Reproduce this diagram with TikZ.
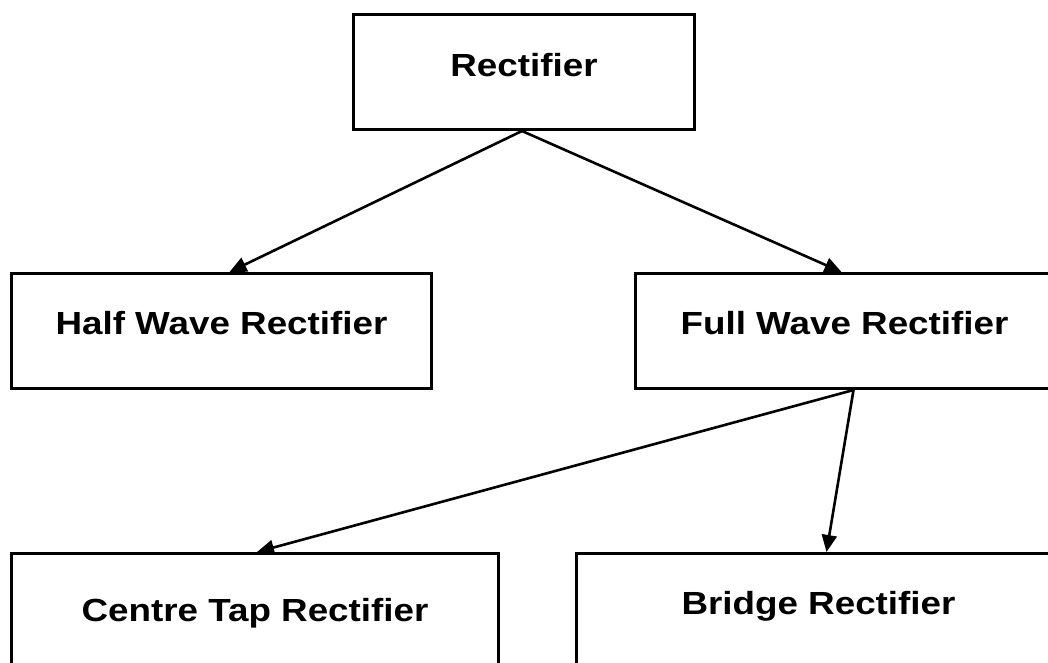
\documentclass[tikz,border=0pt]{standalone}
\usepackage{fontspec}
\setmainfont{Liberation Sans}[FakeStretch=1.15]
\usetikzlibrary{arrows.meta}

\begin{document}
\begin{tikzpicture}[x=1pt,y=-1pt,
  blockbox/.style={draw=black, line width=3pt, fill=white, inner sep=0pt,
    anchor=north west, font=\fontsize{32}{38}\selectfont\bfseries, align=center},
  link/.style={line width=2.6pt, -{Triangle[length=17pt,width=15pt]}}]

  % page frame
  \useasboundingbox (0,0) rectangle (1048,663);
  \clip (0,0) rectangle (1048,663);

  % blocks (text height / depth place the baseline inside each box)
  \node[blockbox, minimum width=341pt, text height=62pt, text depth=53pt]
    (rect) at (352,13) {Rectifier};
  \node[blockbox, minimum width=420pt, text height=61pt, text depth=54pt]
    (half) at (10,272) {Half Wave Rectifier};
  \node[blockbox, minimum width=418pt, text height=61pt, text depth=54pt]
    (full) at (634,272) {Full Wave Rectifier};
  \node[blockbox, minimum width=487pt, text height=68pt, text depth=47pt]
    (ctap) at (10,552) {Centre Tap Rectifier};
  \node[blockbox, minimum width=484pt, text height=61pt, text depth=54pt]
    (bridge) at (575,552) {Bridge Rectifier};

  % connectors
  \draw[link] ([xshift=-2pt]rect.south) -- ([xshift=8pt]half.north);
  \draw[link] ([xshift=-2pt]rect.south) -- ([xshift=-3pt]full.north);
  \draw[link] ([xshift=9pt]full.south) -- ([xshift=2pt]ctap.north);
  \draw[link] ([xshift=9pt]full.south) -- ([xshift=8pt]bridge.north);
\end{tikzpicture}
\end{document}
